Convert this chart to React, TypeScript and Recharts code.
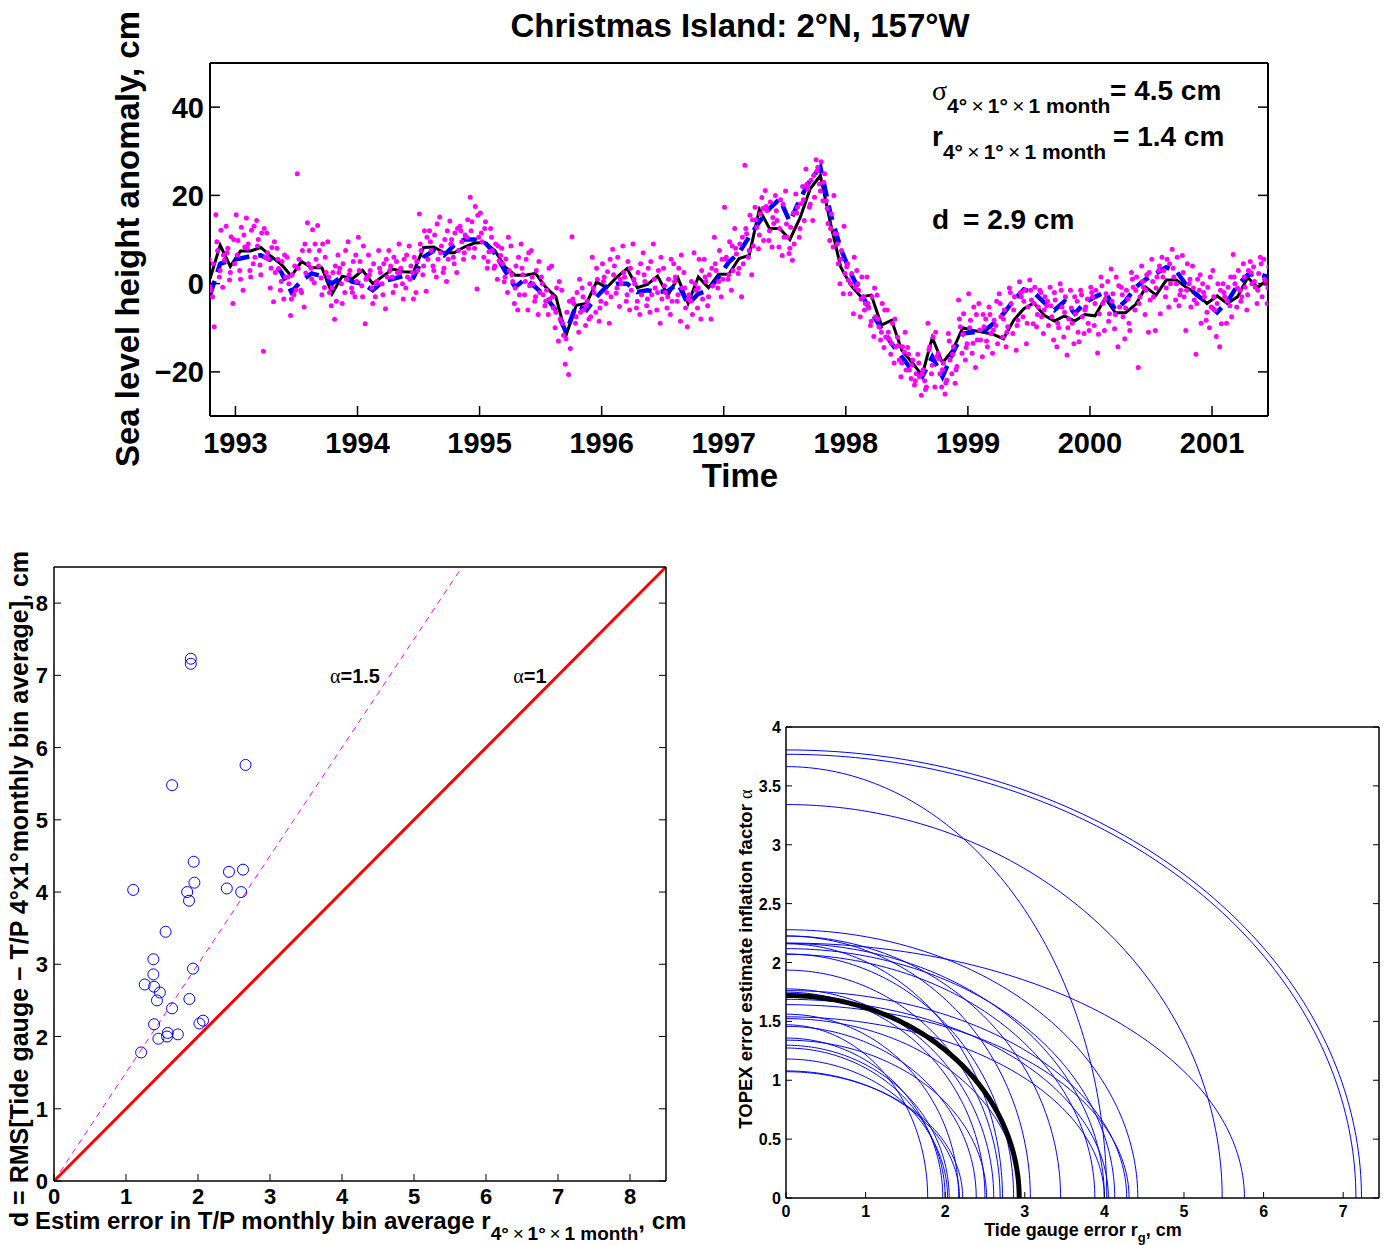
import React from 'react';
import { ComposedChart, LineChart, Line, Scatter, XAxis, YAxis } from 'recharts';

const FONT = '"Liberation Sans", Arial, Helvetica, sans-serif';
const SERIF = '"Liberation Serif", "DejaVu Serif", serif';

// ---------------- Top panel: Christmas Island time series ----------------
const firstMonth = 1992 + 9.5 / 12; // mid-October 1992, monthly values follow
const yearTicks = [1993, 1994, 1995, 1996, 1997, 1998, 1999, 2000, 2001];
const slaTicks = [-20, 0, 20, 40];

// tide gauge monthly mean (black solid)
const tideGaugeMonthly = [
  1.1, 8.7, 3.9, 7.4, 7.4, 8.2, 6.2, 4.4, 1.7, 5.0, 3.6, 3.6, -2.3, 1.7, 1.1, 3.0, 0.0, 1.7, 3.3, 2.7,
  2.6, 8.2, 8.3, 7.0, 7.0, 8.3, 9.2, 9.3, 7.5, 3.8, 1.9, 1.9, 2.3, -0.8, -3.0, -11.7, -4.9, -4.5, 0.4, -0.9,
  1.5, 3.4, -0.9, -0.2, 1.7, -2.6, 1.3, -4.5, 1.5, -0.9, 2.1, 2.1, 5.7, 6.4, 16.8, 12.5, 12.5, 10.0, 14.9, 21.5,
  24.5, 13.6, 3.8, -0.4, -3.0, -2.6, -9.4, -8.3, -15.1, -17.8, -20.8, -12.2, -18.0, -15.1, -10.0, -10.6, -11.0, -11.5, -12.5, -8.3,
  -5.7, -4.4, -7.2, -8.5, -7.3, -8.5, -7.0, -7.3, -3.3, -6.6, -6.6, -4.7, -0.8, -2.6, 0.8, 0.8, -0.9, -2.3, -4.5, -2.8,
  -4.5, -3.0, 1.4, -0.9, 1.1,
];

// T/P 4x1 degree monthly bin average (blue dashed)
const tpBinMonthly = [
  -2.6, 4.5, 5.3, 5.7, 6.2, 6.4, 5.3, 2.6, -1.9, 0.7, 2.3, 1.7, 0.0, 1.7, 0.4, 0.0, -1.5, 0.5, 1.1, 1.7,
  1.4, 6.0, 7.5, 6.4, 8.7, 10.0, 10.0, 9.4, 6.8, 2.9, -0.8, 1.1, -0.8, -3.0, -6.0, -11.0, -4.9, -6.0, -3.0, -0.6,
  0.0, 0.0, -1.9, -1.5, -1.9, -1.7, 0.0, -4.7, -2.3, -1.5, 1.5, 4.9, 7.0, 10.6, 14.0, 17.0, 19.2, 14.0, 19.2, 23.4,
  26.4, 15.8, 7.9, 2.3, -2.3, -6.4, -10.2, -13.6, -16.6, -19.6, -21.1, -16.6, -21.1, -15.8, -11.3, -11.0, -11.0, -9.0, -6.8, -3.8,
  -1.3, -2.1, -4.3, -6.0, -4.0, -6.8, -4.3, -3.0, -1.9, -6.0, -3.9, -0.8, 1.0, 2.3, 3.7, 2.8, -0.4, -2.6, -4.3, -6.5,
  -4.1, -0.4, 2.0, 2.2, 1.5,
];

// individual T/P along-track values inside the bin (magenta dots), outer spread: 6 per month
const tpAlongTrack = [
  [3.5, -1.5, 1.0, -9.8, 5.5, -3.0], [15.6, 12.1, 7.5, 5.3, 1.5, -0.8], [13.0, 10.6, 8.0, 4.5, 0.8, -4.5],
  [15.6, 12.8, 9.8, 8.3, 3.0, -1.5], [14.9, 12.1, 9.0, 6.0, 3.0, 4.5], [14.3, 11.5, 10.0, 6.0, 4.2, -15.3],
  [11.5, 8.2, 5.6, 2.5, -1.0, -4.1], [8.0, 5.0, 3.4, 1.5, -1.5, -3.5], [6.0, 2.0, 0.0, -1.5, -7.2, -2.5],
  [24.9, 7.5, 5.5, 2.4, -1.5, -5.3], [13.8, 12.2, 7.5, 5.5, 3.5, 0.2], [13.2, 9.0, 7.5, 2.5, 1.3, -0.9],
  [9.5, 2.5, -2.0, -4.0, -5.0, -8.1], [6.5, 4.5, 3.5, 1.0, 0.0, -2.0], [9.5, 5.0, 3.0, 0.5, -1.0, -3.0],
  [10.5, 8.5, 5.0, 1.5, -0.5, -9.1], [6.5, 4.5, 3.0, 0.5, -1.0, -3.0], [7.5, 4.5, 2.5, 1.5, 0.0, -5.7],
  [7.5, 6.0, 4.0, 2.5, 1.5, -0.5], [9.0, 5.5, 3.5, 1.5, 0.0, -1.0], [8.5, 6.0, 4.0, 3.0, 2.5, -2.0],
  [15.8, 12.0, 7.5, 5.5, 2.0, -1.7], [12.0, 11.0, 7.5, 5.5, 4.0, 1.5], [15.1, 10.0, 8.5, 5.5, 2.5, 0.5],
  [14.2, 11.5, 10.0, 7.5, 6.0, 2.5], [13.0, 11.0, 9.5, 8.0, 5.5, 10.5], [19.6, 17.5, 14.0, 10.5, 6.0, -1.2],
  [16.0, 14.0, 9.5, 7.2, 6.0, 3.5], [12.5, 9.0, 7.5, 5.2, 3.5, 1.0], [6.4, 5.6, 4.5, 3.0, 0.4, -2.0],
  [8.5, 4.0, 0.5, -2.5, -4.5, -6.0], [9.0, 5.5, 2.0, -0.5, -2.5, -6.0], [7.5, 3.0, 0.0, -2.0, -4.0, -7.0],
  [1.5, -1.5, -2.5, -3.5, -5.0, -7.0], [4.0, -1.0, -5.5, -8.0, -10.0, -13.0], [-1.5, -6.5, -11.7, -14.7, -18.3, -20.6],
  [10.6, -2.0, -4.5, -6.5, -9.0, -11.0], [-1.0, -4.0, -6.0, -7.5, -9.5, -8.0], [6.0, 1.0, -2.0, -4.0, -6.5, -8.5],
  [4.5, 2.7, 1.5, -3.0, -4.5, -9.0], [7.8, 6.0, 4.0, 0.0, -2.2, -5.2], [8.5, 5.0, 1.5, -1.5, -4.0, -6.0],
  [9.0, 2.5, 0.0, -2.5, -5.5, -7.0], [7.0, 3.5, 0.5, -2.5, -5.0, -6.5], [9.0, 3.0, -1.0, -3.5, -6.0, -9.0],
  [3.5, 1.0, -2.0, -4.0, -5.5, -7.0], [4.5, 3.5, 1.5, -1.0, -4.0, -8.5], [2.5, -2.5, -5.5, -7.0, -9.8, -4.0],
  [7.0, 5.5, -1.5, -3.5, -5.5, -8.0], [5.5, 2.0, 0.5, -0.5, -5.0, -8.0], [10.5, 7.5, 3.0, 1.0, -1.0, -3.0],
  [17.3, 9.5, 6.0, 3.0, 1.0, -1.5], [12.5, 9.0, 6.7, 4.5, 2.3, -3.0], [26.8, 15.5, 11.3, 8.5, 6.0, 2.0],
  [17.3, 15.8, 12.8, 9.8, 7.9, 19.5], [21.1, 18.5, 16.6, 13.6, 9.8, 8.3], [20.0, 19.0, 14.3, 10.5, 8.3, 6.4],
  [21.0, 12.8, 10.5, 9.0, 6.8, 5.3], [20.3, 18.1, 17.3, 14.3, 10.5, 22.0], [26.0, 23.4, 21.5, 19.6, 17.3, 14.3],
  [28.1, 27.6, 26.4, 24.9, 22.6, 18.8], [18.8, 15.8, 13.6, 11.3, 9.8, 8.3], [11.3, 7.5, 4.5, 2.3, 0.0, -2.3],
  [3.8, 2.3, 0.8, -0.8, -2.3, -6.8], [3.0, 1.5, -1.5, -4.5, -7.5, -3.0], [1.5, -3.0, -5.5, -7.5, -9.5, -12.0],
  [-2.6, -4.5, -9.8, -12.1, -12.8, -14.5], [-6.0, -9.0, -12.5, -14.3, -16.0, -18.0], [-12.1, -14.3, -17.3, -19.6, -21.1, -15.5],
  [-14.5, -17.3, -19.6, -20.4, -21.5, -23.0], [-16.0, -19.6, -21.1, -23.4, -25.3, -22.0], [-9.0, -12.1, -14.3, -16.6, -20.4, -23.4],
  [-15.8, -18.0, -20.4, -21.9, -23.4, -25.0], [-11.3, -14.3, -17.3, -18.8, -20.4, -22.6], [-3.7, -6.8, -9.8, -13.6, -15.8, -17.3],
  [-2.3, -5.3, -8.3, -12.8, -15.8, -19.0], [-4.5, -9.8, -12.8, -14.3, -16.6, -8.0], [-5.3, -8.3, -11.3, -13.6, -15.8, -9.5],
  [-2.3, -6.0, -7.5, -9.8, -12.1, -14.3], [-1.0, -3.0, -4.5, -8.3, -11.3, -15.1], [0.4, -1.5, -3.0, -5.3, -7.5, -13.6],
  [0.8, -0.8, -3.7, -5.3, -9.1, -9.8], [-1.5, -3.0, -7.5, -9.5, -11.3, -5.0], [-0.8, -3.7, -7.5, -10.0, -12.8, -14.3],
  [0.0, -3.0, -5.3, -8.0, -12.1, -16.2], [-1.5, -6.8, -9.0, -13.2, -13.6, -4.0], [-1.5, -5.3, -7.5, -10.6, -11.3, -3.5],
  [-0.8, -1.5, -3.0, -6.8, -9.5, -15.7], [1.5, -2.3, -4.5, -6.8, -10.6, 0.5], [3.3, 1.5, -2.3, -5.3, -10.2, -14.3],
  [-0.8, -1.5, -7.5, -10.6, -12.5, -3.5], [2.5, 1.5, -0.8, -3.0, -6.0, -19.0], [4.0, 2.0, -0.8, -3.7, -7.0, -11.0],
  [5.5, 1.5, -3.0, -6.8, -10.6, 3.0], [6.0, 5.5, 3.0, 0.0, -3.0, -5.3], [7.8, 6.0, 1.5, -1.5, -3.7, -5.0],
  [6.4, 4.5, -3.0, -5.3, -10.6, 0.0], [4.0, 1.0, -3.7, -9.0, -16.0, -1.5], [0.0, -0.8, -3.0, -5.3, -8.3, -10.0],
  [3.0, 0.0, -6.0, -9.1, -12.0, -14.3], [0.0, -0.8, -3.0, -7.5, -9.0, -5.0], [6.6, 3.0, 0.0, -3.0, -5.3, -1.5],
  [4.5, 3.0, -0.8, 0.0, -6.0, 5.0], [3.8, 2.3, -0.8, -3.0, -4.5, 6.0], [5.5, 3.8, 0.0, -2.3, -4.5, 2.0],
];
// dense core of along-track values near the bin mean: 3 more per month
const tpAlongTrackCore = [
  [2.0, -0.5, 4.5], [9.5, 3.0, 6.5], [7.0, 2.5, 10.0], [6.5, 1.0, 11.0], [8.0, 1.5, 13.0], [8.5, 2.0, 12.5],
  [7.0, 3.5, 9.5], [5.5, 0.5, 6.5], [1.5, -3.5, 4.0], [3.5, -2.0, 9.0], [4.5, 1.0, 9.0], [4.0, -2.5, 6.0],
  [1.5, -1.0, 4.0], [2.5, -4.5, 7.5], [2.0, -2.0, 6.5], [3.0, -3.0, 1.0], [2.0, -4.5, 0.0], [3.5, -2.5, 5.5],
  [3.0, -2.0, 5.0], [2.5, -3.5, 6.5], [1.0, -3.5, 5.0], [9.0, 4.0, 10.5], [9.5, 3.0, 13.5], [7.0, 3.5, 12.0],
  [9.0, 4.5, 12.5], [12.0, 7.0, 14.5], [12.0, 8.0, 15.5], [11.5, 12.5, 5.0], [10.5, 4.0, 8.5], [8.0, 1.5, 10.5],
  [2.0, -1.0, 6.0], [3.5, 0.5, 7.0], [1.5, -3.0, 5.0], [0.0, -4.0, 3.5], [-3.0, -6.5, 0.5], [-9.0, -12.5, -4.0],
  [-3.5, -7.5, 1.0], [-3.0, -5.0, 0.0], [-1.0, 3.5, -5.5], [0.5, -2.0, 5.5], [2.0, -1.0, 1.0], [2.5, -2.5, 3.5],
  [1.0, -4.0, 4.5], [2.0, -3.5, 5.0], [1.0, -2.0, 6.0], [-0.5, -3.0, 5.5], [0.5, -2.5, 6.5], [-1.0, -3.5, 0.5],
  [0.0, -1.0, 3.0], [1.5, -3.0, 3.5], [4.5, 0.5, 5.5], [5.5, 2.0, 8.5], [8.0, 3.5, 10.5], [12.5, 7.5, 14.5],
  [14.5, 11.0, 17.0], [17.5, 12.0, 15.0], [16.5, 12.5, 18.0], [13.5, 8.0, 16.0], [16.0, 12.5, 19.0], [22.5, 18.0, 24.5],
  [25.5, 21.0, 23.0], [17.0, 12.5, 20.0], [9.0, 5.5, 13.0], [4.5, 0.0, 6.0], [0.0, -3.5, -6.0], [-4.5, -8.5, -1.0],
  [-8.0, -11.0, -6.0], [-11.0, -13.5, -8.0], [-14.0, -18.0, -11.0], [-16.0, -18.5, -22.0], [-18.0, -20.5, -24.0], [-15.0, -18.5, -11.0],
  [-17.0, -19.5, -22.5], [-13.0, -16.0, -19.5], [-8.0, -11.5, -14.5], [-10.0, -13.5, -7.0], [-10.5, -7.0, -13.0], [-7.0, -10.5, -4.0],
  [-4.5, -8.0, -11.0], [-2.0, -6.0, -9.5], [-2.0, -4.0, -9.0], [-1.5, -4.5, -7.0], [-2.0, -6.0, -4.0], [-5.0, -2.0, -9.0],
  [-1.5, -6.5, -10.0], [-5.5, -3.0, -11.0], [-2.5, -6.0, -9.0], [-2.0, -4.5, -11.5], [-0.5, -3.5, -8.5], [-4.0, -7.0, -0.5],
  [-2.5, -5.5, -9.0], [1.0, -1.5, -4.5], [0.5, -1.5, 2.5], [0.5, -1.0, 4.0], [1.5, -1.0, 4.5], [3.5, 0.0, -2.5],
  [2.5, -1.5, 1.0], [-1.0, -4.5, 2.0], [-2.0, -6.5, 1.5], [-3.0, -4.5, -1.5], [-2.0, -4.0, 1.5], [1.5, -1.0, -4.0],
  [1.5, -2.5, 2.5], [0.5, -1.5, 4.5], [1.0, -1.0, 3.5],
];
// times of the ~10-day repeat cycles inside each month (fraction of a month)
const cyclePhase = [-0.42, 0.08, -0.25, 0.42, -0.08, 0.25];
const corePhase = [-0.33, 0.0, 0.33];

const tideRows = tideGaugeMonthly.map((v, i) => ({ t: firstMonth + i / 12, v }));
const tpRows = tpBinMonthly.map((v, i) => ({ t: firstMonth + i / 12, v }));
const dotRows = [
  ...tpAlongTrack.flatMap((vals, i) => vals.map((v, k) => ({ t: firstMonth + (i + cyclePhase[k]) / 12, v }))),
  ...tpAlongTrackCore.flatMap((vals, i) => vals.map((v, k) => ({ t: firstMonth + (i + corePhase[k]) / 12, v }))),
];
const timeDomain: [number, number] = [firstMonth, firstMonth + (tideGaugeMonthly.length - 1) / 12];

// ---------------- Bottom-left: station statistics ----------------
const stationR = [1.9, 1.9, 1.64, 2.66, 1.1, 1.94, 1.95, 1.85, 1.875, 2.43, 2.625, 2.4, 2.6, 1.55, 1.38, 1.38,
  1.26, 1.39, 1.47, 1.43, 1.93, 1.88, 1.64, 1.39, 1.58, 1.57, 1.45, 1.72, 2.02, 2.07, 1.21];
const stationD = [7.23, 7.16, 5.48, 5.76, 4.03, 4.42, 4.13, 4.0, 3.88, 4.28, 4.31, 4.05, 4.0, 3.45, 3.07, 2.86,
  2.72, 2.69, 2.61, 2.5, 2.94, 2.52, 2.39, 2.17, 2.05, 2.0, 1.97, 2.03, 2.18, 2.22, 1.78];
const stationRows = stationR.map((r, i) => ({ x: r, y: stationD[i] }));
const scatterTicks = [0, 1, 2, 3, 4, 5, 6, 7, 8];
const scatterMax = 8.5;
const alphaLines = [1, 1.5];
const alphaRows = alphaLines.map((a) => [
  { x: 0, y: 0 },
  { x: Math.min(scatterMax, scatterMax / a), y: Math.min(scatterMax, scatterMax * a) },
]);

// ---------------- Bottom-right: error trade-off ellipses ----------------
const fitD = 2.93; // thick black curve: rg-intercept
const fitAlpha = 1.72; // thick black curve: alpha-intercept
const rgTicks = [0, 1, 2, 3, 4, 5, 6, 7];
const alphaTicks = [0, 0.5, 1, 1.5, 2, 2.5, 3, 3.5, 4];
const ellipseSteps = 90;
function quarterEllipse(rgMax: number, alphaMax: number) {
  const pts: { x: number; y: number }[] = [];
  for (let j = 0; j <= ellipseSteps; j++) {
    const th = (Math.PI / 2) * (j / ellipseSteps);
    pts.push({ x: rgMax * Math.cos(th), y: alphaMax * Math.sin(th) });
  }
  return pts;
}
const stationCurves = stationR.map((r, i) => quarterEllipse(stationD[i], stationD[i] / r));
const fitCurve = quarterEllipse(fitD, fitAlpha);

// ---------------- tick helper (inward MATLAB-style ticks) ----------------
type LabelSpec = { size: number; dx: number; dy: number };
const fmtNum = (v: number) => (v < 0 ? '\u2212' + Math.abs(v) : String(v));
function makeTick(side: 'left' | 'right' | 'top' | 'bottom', len: number, sw: number, label?: LabelSpec) {
  return (props: any) => {
    const { x, y, payload } = props;
    const v = payload ? payload.value : 0;
    let x2 = x;
    let y2 = y;
    if (side === 'left') x2 = x + len;
    else if (side === 'right') x2 = x - len;
    else if (side === 'bottom') y2 = y - len;
    else y2 = y + len;
    return (
      <g>
        <line x1={x} y1={y} x2={x2} y2={y2} stroke="#000" strokeWidth={sw} />
        {label ? (
          <text
            x={x + label.dx}
            y={y + label.dy}
            textAnchor={side === 'left' ? 'end' : 'middle'}
            fontFamily={FONT}
            fontWeight="bold"
            fontSize={label.size}
            fill="#000"
          >
            {fmtNum(v)}
          </text>
        ) : null}
      </g>
    );
  };
}

const dotShape = (p: any) => <circle cx={p.cx} cy={p.cy} r={2.5} fill="#ff00ff" />;
const ringShape = (p: any) => <circle cx={p.cx} cy={p.cy} r={5.5} fill="none" stroke="#0000ff" strokeWidth={1} />;

const Sub = () => (
  <>
    4°<tspan fontWeight="normal">{'\u2009×\u2009'}</tspan>1°<tspan fontWeight="normal">{'\u2009×\u2009'}</tspan>1 month
  </>
);

export default function App() {
  const topAxis = { stroke: '#000', strokeWidth: 2 };
  const blAxis = { stroke: '#000', strokeWidth: 1.5 };
  const brAxis = { stroke: '#000', strokeWidth: 1.5 };
  return (
    <div style={{ position: 'absolute', left: 0, top: 0, width: 1387, height: 1245, background: '#fff', overflow: 'hidden' }}>
      {/* Top panel */}
      <div style={{ position: 'absolute', left: 0, top: 0 }}>
        <ComposedChart width={1387} height={459} margin={{ top: 62, right: 118, bottom: 0, left: 150 }}>
          <XAxis dataKey="t" type="number" domain={timeDomain} ticks={yearTicks} allowDataOverflow interval={0}
            height={43} tickSize={0} tickMargin={0} axisLine={topAxis} tick={makeTick('bottom', 10, 1.5, { size: 29, dx: 0, dy: 37 })} />
          <XAxis xAxisId="top" orientation="top" type="number" domain={timeDomain} ticks={yearTicks} allowDataOverflow interval={0}
            height={1} tickSize={0} tickMargin={0} axisLine={topAxis} tick={makeTick('top', 10, 1.5)} />
          <YAxis dataKey="v" type="number" domain={[-30, 50]} ticks={slaTicks} allowDataOverflow interval={0}
            width={60} tickSize={0} tickMargin={0} axisLine={topAxis} tick={makeTick('left', 10, 1.5, { size: 29, dx: -6, dy: 10.5 })} />
          <YAxis yAxisId="right" orientation="right" type="number" domain={[-30, 50]} ticks={slaTicks} allowDataOverflow interval={0}
            width={1} tickSize={0} tickMargin={0} axisLine={topAxis} tick={makeTick('right', 10, 1.5)} />
          <Scatter data={dotRows} dataKey="v" shape={dotShape} isAnimationActive={false} />
          <Line data={tideRows} dataKey="v" stroke="#000" strokeWidth={3} dot={false} type="linear" isAnimationActive={false} />
          <Line data={tpRows} dataKey="v" stroke="#0000ff" strokeWidth={4.5} strokeDasharray="15 9" dot={false} type="linear" isAnimationActive={false} />
        </ComposedChart>
      </div>

      {/* Bottom-left panel */}
      <div style={{ position: 'absolute', left: 0, top: 540 }}>
        <ComposedChart width={700} height={680} margin={{ top: 26, right: 33, bottom: 9, left: 14 }}>
          <XAxis dataKey="x" type="number" domain={[0, scatterMax]} ticks={scatterTicks} allowDataOverflow interval={0}
            height={30} tickSize={0} tickMargin={0} axisLine={blAxis} tick={makeTick('bottom', 7, 1, { size: 22, dx: 0, dy: 23 })} />
          <XAxis xAxisId="top" orientation="top" type="number" domain={[0, scatterMax]} ticks={scatterTicks} allowDataOverflow interval={0}
            height={1} tickSize={0} tickMargin={0} axisLine={blAxis} tick={makeTick('top', 7, 1)} />
          <YAxis dataKey="y" type="number" domain={[0, scatterMax]} ticks={scatterTicks} allowDataOverflow interval={0}
            width={40} tickSize={0} tickMargin={0} axisLine={blAxis} tick={makeTick('left', 7, 1, { size: 22, dx: -6, dy: 8 })} />
          <YAxis yAxisId="right" orientation="right" type="number" domain={[0, scatterMax]} ticks={scatterTicks} allowDataOverflow interval={0}
            width={1} tickSize={0} tickMargin={0} axisLine={blAxis} tick={makeTick('right', 7, 1)} />
          <Scatter data={stationRows} dataKey="y" shape={ringShape} isAnimationActive={false} />
          <Line data={alphaRows[1]} dataKey="y" stroke="#ff00ff" strokeWidth={1} strokeDasharray="6 5" dot={false} type="linear" isAnimationActive={false} />
          <Line data={alphaRows[0]} dataKey="y" stroke="#ff0000" strokeWidth={3} dot={false} type="linear" isAnimationActive={false} />
        </ComposedChart>
      </div>

      {/* Bottom-right panel */}
      <div style={{ position: 'absolute', left: 700, top: 700 }}>
        <LineChart width={687} height={545} margin={{ top: 26, right: 7, bottom: 17, left: 36 }}>
          <XAxis dataKey="x" type="number" domain={[0, 7.45]} ticks={rgTicks} allowDataOverflow interval={0}
            height={30} tickSize={0} tickMargin={0} axisLine={brAxis} tick={makeTick('bottom', 6, 1, { size: 16, dx: 0, dy: 19 })} />
          <XAxis xAxisId="top" orientation="top" type="number" domain={[0, 7.45]} ticks={rgTicks} allowDataOverflow interval={0}
            height={1} tickSize={0} tickMargin={0} axisLine={brAxis} tick={makeTick('top', 6, 1)} />
          <YAxis dataKey="y" type="number" domain={[0, 4]} ticks={alphaTicks} allowDataOverflow interval={0}
            width={50} tickSize={0} tickMargin={0} axisLine={brAxis} tick={makeTick('left', 6, 1, { size: 16, dx: -5, dy: 6 })} />
          <YAxis yAxisId="right" orientation="right" type="number" domain={[0, 4]} ticks={alphaTicks} allowDataOverflow interval={0}
            width={1} tickSize={0} tickMargin={0} axisLine={brAxis} tick={makeTick('right', 6, 1)} />
          {stationCurves.map((c, i) => (
            <Line key={i} data={c} dataKey="y" stroke="#0000ff" strokeWidth={1} dot={false} type="linear" isAnimationActive={false} />
          ))}
          <Line data={fitCurve} dataKey="y" stroke="#000" strokeWidth={5} dot={false} type="linear" isAnimationActive={false} />
        </LineChart>
      </div>

      {/* Text overlay */}
      <svg width={1387} height={1245} style={{ position: 'absolute', left: 0, top: 0, pointerEvents: 'none' }}>
        <g fontFamily={FONT} fontWeight="bold" fill="#000">
          <text x={740} y={37} textAnchor="middle" fontSize={33}>Christmas Island: 2°N, 157°W</text>
          <text transform="translate(139,239) rotate(-90)" textAnchor="middle" fontSize={33}>Sea level height anomaly, cm</text>
          <text x={740} y={487} textAnchor="middle" fontSize={33}>Time</text>

          <text x={932} y={100} fontSize={28}>
            <tspan fontFamily={SERIF} fontWeight="normal">σ</tspan>
            <tspan dy={13} fontSize={21}><Sub /></tspan>
          </text>
          <text x={1110} y={100} fontSize={28}>= 4.5 cm</text>
          <text x={932} y={146} fontSize={28}>
            r<tspan dy={13} fontSize={21}><Sub /></tspan>
          </text>
          <text x={1113} y={146} fontSize={28}>= 1.4 cm</text>
          <text x={932} y={229} fontSize={28}>d</text>
          <text x={963} y={229} fontSize={28}>= 2.9 cm</text>

          <text transform="translate(28,889) rotate(-90)" textAnchor="middle" fontSize={25}>d = RMS[Tide gauge − T/P 4°x1°monthly bin average], cm</text>
          <text x={35} y={1229} fontSize={24}>
            Estim error in T/P monthly bin average r<tspan dy={11} fontSize={19}><Sub /></tspan>
            <tspan dy={-11}>, cm</tspan>
          </text>
          <text x={355} y={683} textAnchor="middle" fontSize={20}>
            <tspan fontFamily={SERIF} fontWeight="normal">α</tspan>=1.5
          </text>
          <text x={530} y={683} textAnchor="middle" fontSize={20}>
            <tspan fontFamily={SERIF} fontWeight="normal">α</tspan>=1
          </text>

          <text transform="translate(752,959) rotate(-90)" textAnchor="middle" fontSize={18.5}>
            TOPEX error estimate inflation factor <tspan fontFamily={SERIF} fontWeight="normal">α</tspan>
          </text>
          <text x={1083} y={1236} textAnchor="middle" fontSize={18}>
            Tide gauge error r<tspan dy={6} fontSize={13}>g</tspan><tspan dy={-6}>, cm</tspan>
          </text>
        </g>
      </svg>
    </div>
  );
}
